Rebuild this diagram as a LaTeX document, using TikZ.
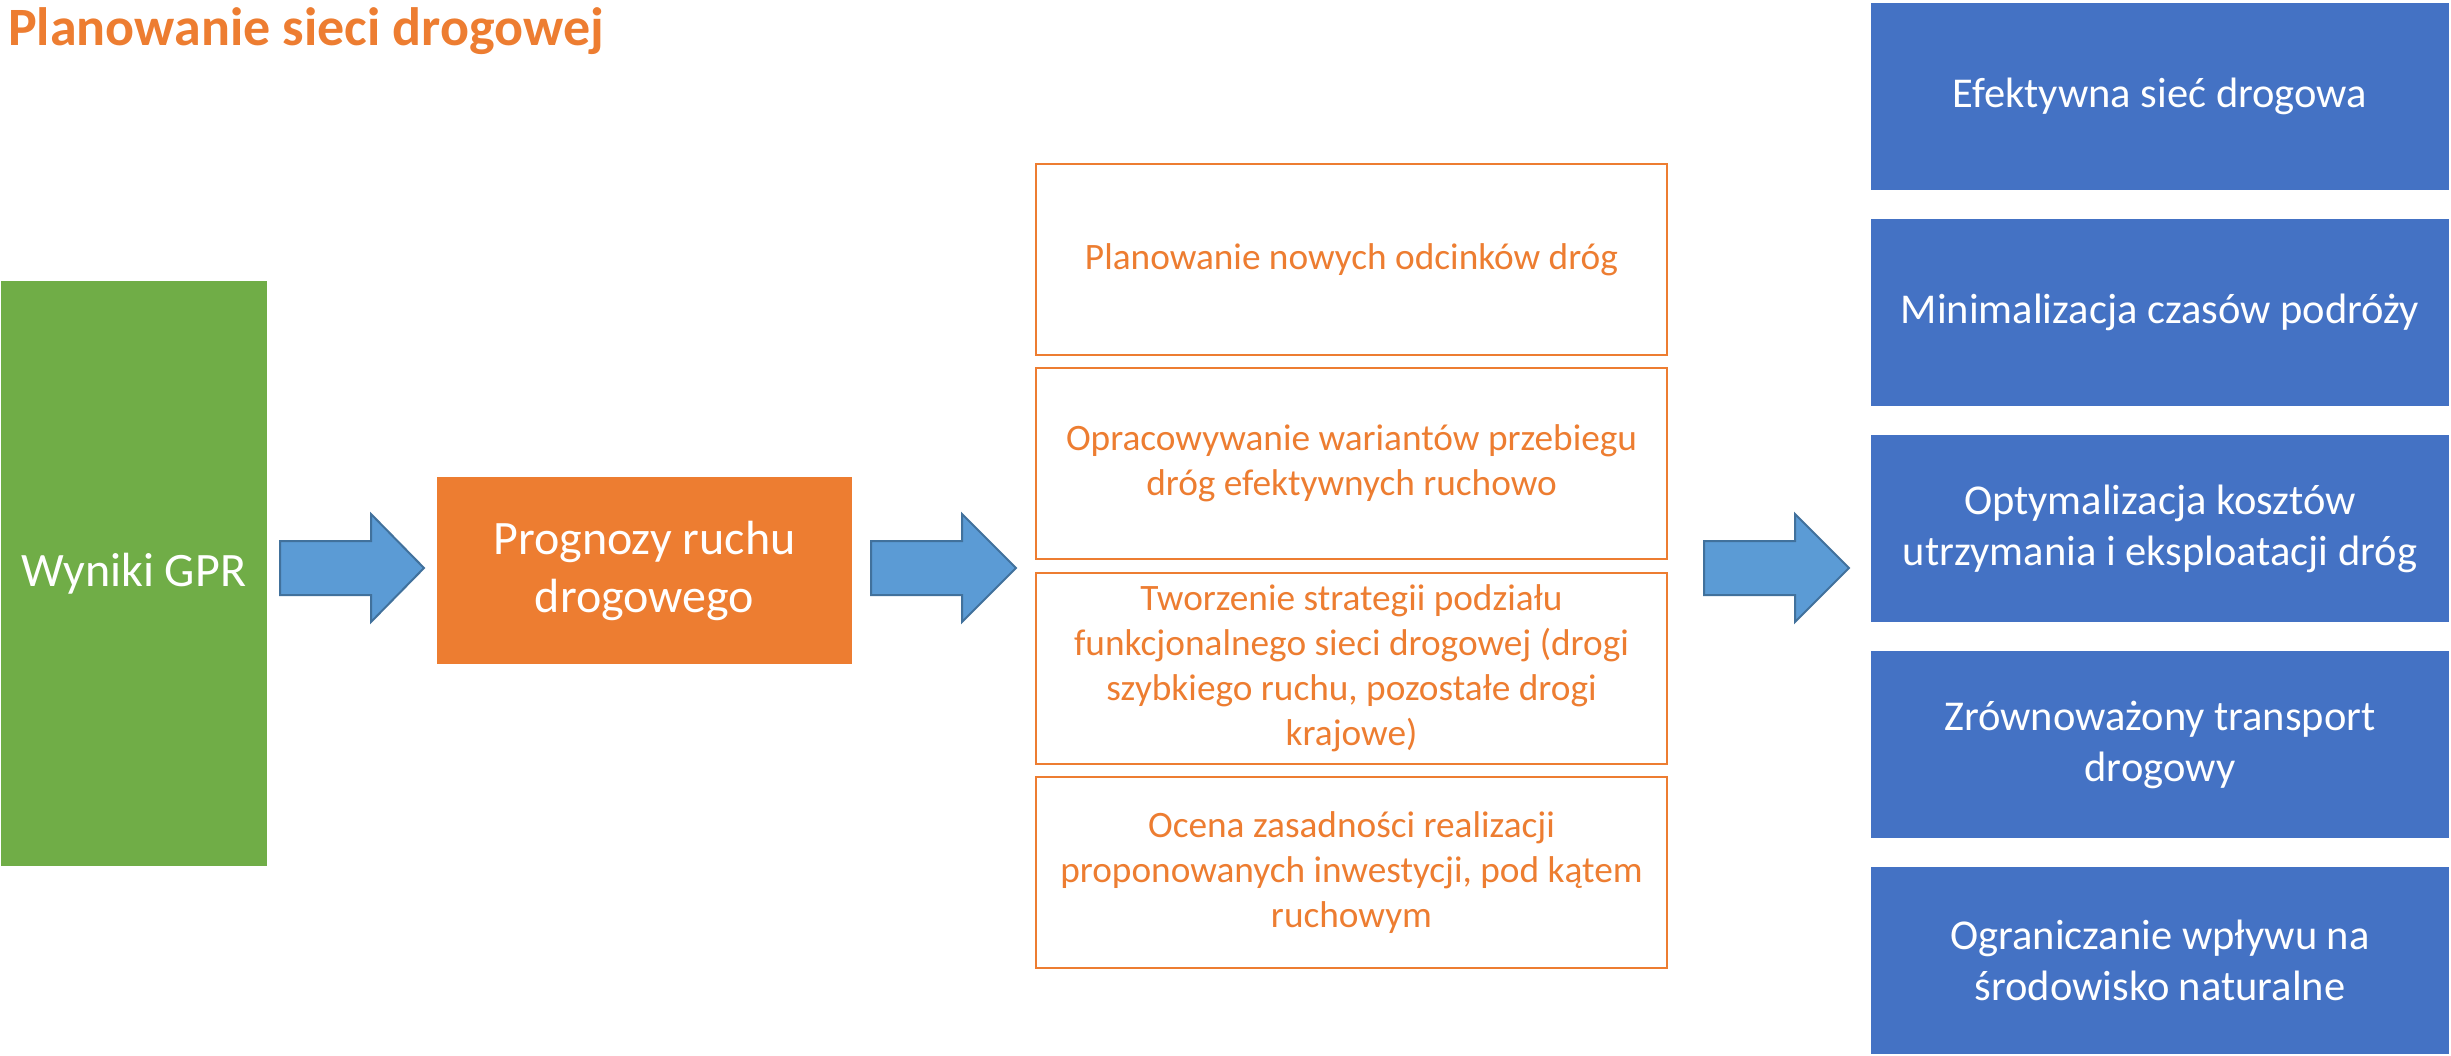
\documentclass[tikz,border=0pt]{standalone}
\usepackage{fontspec}
\setmainfont{Carlito}
\definecolor{cgreen}{HTML}{70AD47}
\definecolor{corange}{HTML}{ED7D31}
\definecolor{cblue}{HTML}{4472C4}
\definecolor{carrow}{HTML}{5B9BD5}
\definecolor{carrowb}{HTML}{41719C}
\newcommand{\blockarrow}[3]{%
  \draw[arrowshape] (#1,541) -- (#2,541) -- (#2,514) -- (#3,568) -- (#2,622) -- (#2,595) -- (#1,595) -- cycle;}
\begin{document}
\begin{tikzpicture}[x=1pt,y=-1pt,
  bigtxt/.style={font=\fontsize{48}{58}\selectfont, text=white, align=center, inner sep=0pt},
  greenbox/.style={bigtxt, fill=cgreen, minimum width=266pt, minimum height=585pt},
  orangebox/.style={bigtxt, fill=corange, minimum width=415pt, minimum height=187pt},
  midbox/.style={draw=corange, line width=2.5pt, fill=white, text=corange, align=center,
    font=\fontsize{37.3}{45}\selectfont, minimum width=631pt, minimum height=191pt, inner sep=0pt},
  rightbox/.style={fill=cblue, text=white, align=center,
    font=\fontsize{42.5}{51}\selectfont, minimum width=578pt, minimum height=187pt, inner sep=0pt},
  arrowshape/.style={fill=carrow, draw=carrowb, line width=2pt, line join=miter}]
\useasboundingbox (0,0) rectangle (2451,1056);
\node[anchor=base west, text=corange, font=\fontsize{54}{65}\selectfont\bfseries, inner sep=0pt] (title) at (8,46) {Planowanie sieci drogowej};
\node[greenbox] (gpr) at (134,573.5) {Wyniki GPR};
\node[orangebox] (prog) at (644.5,570.5) {Prognozy ruchu\\drogowego};
\node[midbox] (m1) at (1351.5,259.5) {Planowanie nowych odcinków dróg};
\node[midbox] (m2) at (1351.5,463.5) {Opracowywanie wariantów przebiegu\\dróg efektywnych ruchowo};
\node[midbox] (m3) at (1351.5,668.5) {Tworzenie strategii podziału\\funkcjonalnego sieci drogowej (drogi\\szybkiego ruchu, pozostałe drogi\\krajowe)};
\node[midbox] (m4) at (1351.5,872.5) {Ocena zasadności realizacji\\proponowanych inwestycji, pod kątem\\ruchowym};
\node[rightbox] (r1) at (2160,96.5) {Efektywna sieć drogowa};
\node[rightbox] (r2) at (2160,312.5) {Minimalizacja czasów podróży};
\node[rightbox] (r3) at (2160,528.5) {Optymalizacja kosztów\\utrzymania i eksploatacji dróg};
\node[rightbox] (r4) at (2160,744.5) {Zrównoważony transport\\drogowy};
\node[rightbox] (r5) at (2160,960.5) {Ograniczanie wpływu na\\środowisko naturalne};
\blockarrow{280}{371}{424}
\blockarrow{871}{962}{1016}
\blockarrow{1704}{1795}{1849}
\end{tikzpicture}
\end{document}
